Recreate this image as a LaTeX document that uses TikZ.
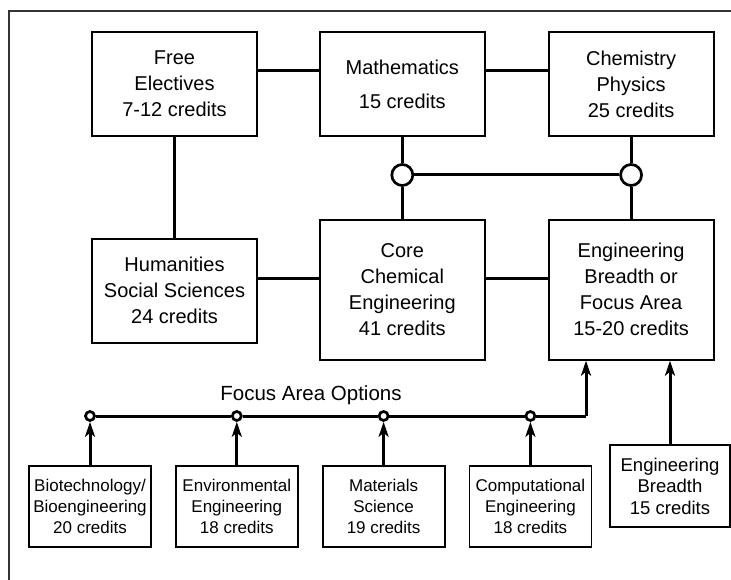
\documentclass[tikz,border=0pt]{standalone}
\usepackage{fontspec}
\setmainfont{Liberation Sans}
\usetikzlibrary{positioning,arrows.meta}
\tikzstyle{chart} = [x = 1pt, y = -1pt]
\definecolor{frameColor}{RGB}{51,51,51}
\tikzstyle{frameLine} = [color=frameColor, line width=2pt]
\tikzstyle{boxStyle} = [draw, line width=1.8pt, align=center, inner sep=0pt, minimum width=165pt, font=\fontsize{20}{26}\selectfont]
\tikzstyle{optionStyle} = [draw, line width=1.8pt, align=center, inner sep=0pt, minimum width=122pt, minimum height=81pt, font=\fontsize{17}{21}\selectfont]
\tikzstyle{junctionStyle} = [circle, draw, fill=white, line width=2.7pt, minimum size=21pt, inner sep=0pt]
\tikzstyle{dotStyle} = [circle, draw, fill=white, line width=2.7pt, minimum size=9pt, inner sep=0pt]
\tikzstyle{linkLine} = [line width=3pt]
\tikzstyle{feedArrow} = [line width=3pt, -{Stealth[length=15pt, width=10pt, inset=4pt]}]
\begin{document}
\begin{tikzpicture}[chart]
  \useasboundingbox (0,0) rectangle (731,580);
  \draw [frameLine] (9,600) -- (9,11) -- (760,11);

  \node [boxStyle, minimum height=104pt] (free) at (174.5,84) {Free\\Electives\\7-12 credits};
  \node [boxStyle, minimum height=104pt, right=61pt of free] (math) {Mathematics\\[8pt]15 credits};
  \node [boxStyle, minimum height=104pt, right=62pt of math] (chem) {Chemistry\\Physics\\25 credits};
  \node [boxStyle, minimum height=104pt, below=101pt of free] (hum) {Humanities\\Social Sciences\\24 credits};
  \node [boxStyle, minimum height=140pt, below=82pt of math] (core) {Core\\Chemical\\Engineering\\41 credits};
  \node [boxStyle, minimum height=140pt, right=62pt of core] (eng) {Engineering\\Breadth or\\Focus Area\\15-20 credits};

  \node [junctionStyle] (junA) at (math.south |- 0,175) {};
  \node [junctionStyle] (junB) at (chem.south |- 0,175) {};

  \draw [linkLine] ([yshift=13pt]free.east) -- ([yshift=13pt]math.west);
  \draw [linkLine] ([yshift=13pt]math.east) -- ([yshift=13pt]math.east -| chem.west);
  \draw [linkLine] (free.south) -- (free.south |- hum.north);
  \draw [linkLine] ([yshift=12pt]hum.east) -- ([yshift=12pt]hum.east -| core.west);
  \draw [linkLine] ([yshift=11pt]core.east) -- ([yshift=11pt]core.east -| eng.west);
  \draw [linkLine] (math) -- (junA) -- (core);
  \draw [linkLine] (chem) -- (junB) -- (eng);
  \draw [linkLine] (junA) -- (junB);

  \node [optionStyle] (opt1) at (90,506.5) {Biotechnology/\\Bioengineering\\20 credits};
  \node [optionStyle, right=23pt of opt1] (opt2) {Environmental\\Engineering\\18 credits};
  \node [optionStyle, right=23pt of opt2] (opt3) {Materials\\Science\\19 credits};
  \node [optionStyle, right=23pt of opt3] (opt4) {Computational\\Engineering\\18 credits};
  \node [optionStyle, minimum width=120pt, minimum height=82pt, font=\fontsize{18.5}{21.5}\selectfont] (engb) at (670,486) {Engineering\\Breadth\\15 credits};

  \node [font=\fontsize{20.5}{24}\selectfont] (focusLabel) at (311,395) {Focus Area Options};

  \foreach \i in {1,...,4} {
    \node [dotStyle] (dot\i) at (opt\i.north |- 0,416) {};
  }
  \coordinate (bend) at (586,416);
  \draw [linkLine] (dot1) -- (dot2) -- (dot3) -- (dot4) -- (bend);
  \draw [feedArrow] (bend) -- (bend |- eng.south);
  \draw [feedArrow] (engb) -- (engb |- eng.south);
  \foreach \i in {1,...,4} {
    \draw [feedArrow] (opt\i) -- (dot\i);
  }
\end{tikzpicture}
\end{document}
